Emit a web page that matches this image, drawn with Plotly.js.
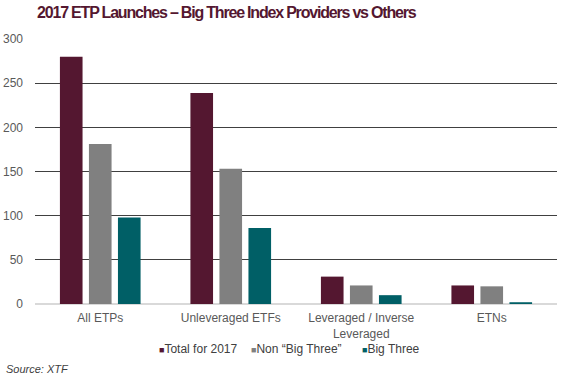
<!DOCTYPE html>
<html>
<head>
<meta charset="utf-8">
<script src="https://cdn.plot.ly/plotly-3.0.1.min.js"></script>
<style>
html,body{margin:0;padding:0;background:#fff;}
#chart{width:567px;height:381px;}
#chart .gtitle{letter-spacing:-1.2px;}
</style>
</head>
<body>
<div id="chart"></div>
<script>
var categories = ["All ETPs", "Unleveraged ETFs", "Leveraged / Inverse<br>Leveraged", "ETNs"];
var seriesNames = ["Total for 2017", "Non \u201cBig Three\u201d", "Big Three"];
var totalValues = [280, 239, 31, 21];
var nonBigThreeValues = [181, 153, 21, 20];
var bigThreeValues = [98, 86, 10, 2];
var yTicks = [0, 50, 100, 150, 200, 250, 300];

var colors = ["#541730", "#808080", "#005f66"];
var allValues = [totalValues, nonBigThreeValues, bigThreeValues];
var traces = allValues.map(function (v, i) {
  return {
    type: "bar",
    x: categories,
    y: v,
    name: seriesNames[i],
    marker: { color: colors[i] },
    hoverinfo: "x+y"
  };
});

var legendX = [0.2343, 0.4105, 0.6232];
var annotations = seriesNames.map(function (n, i) {
  return {
    text: "<span style='color:" + colors[i] + ";font-size:9px'>\u25A0</span>" + n,
    xref: "paper", yref: "paper",
    x: legendX[i], xanchor: "left",
    y: -0.17, yanchor: "middle",
    showarrow: false,
    font: { size: 12, color: "#404040" }
  };
});
annotations.push({
  text: "<i>Source: XTF</i>",
  xref: "paper", yref: "paper",
  x: -0.059, xanchor: "left",
  y: -0.245, yanchor: "middle",
  showarrow: false,
  font: { size: 11, color: "#404040" }
});

var layout = {
  width: 567,
  height: 381,
  margin: { l: 35, r: 10, t: 39, b: 77 },
  paper_bgcolor: "#ffffff",
  plot_bgcolor: "#ffffff",
  font: { family: "Liberation Sans, Arial, sans-serif", size: 12, color: "#595959" },
  title: {
    text: "<b>2017 ETP Launches \u2013 Big Three Index Providers vs Others</b>",
    font: { family: "Liberation Sans, Arial, sans-serif", size: 16, color: "#541730" },
    x: 0.004, xanchor: "left", xref: "paper",
    y: 0.968, yanchor: "middle"
  },
  barmode: "group",
  bargap: 0.333,
  bargroupgap: 0.22,
  xaxis: {
    type: "category",
    showgrid: false,
    showline: false,
    ticks: "",
    ticklabelstandoff: 5,
    tickfont: { size: 12, color: "#595959" },
    fixedrange: true
  },
  yaxis: {
    range: [0, 300],
    tickvals: yTicks,
    ticktext: yTicks.map(String),
    showgrid: true,
    gridcolor: "#404040",
    gridwidth: 1,
    zeroline: true,
    zerolinecolor: "#d9d9d9",
    zerolinewidth: 2,
    showline: false,
    ticks: "",
    ticklabelstandoff: 11,
    tickfont: { size: 12, color: "#595959" },
    fixedrange: true
  },
  annotations: annotations,
  showlegend: false
};

Plotly.newPlot("chart", traces, layout, { displayModeBar: false, staticPlot: true });
</script>
</body>
</html>
